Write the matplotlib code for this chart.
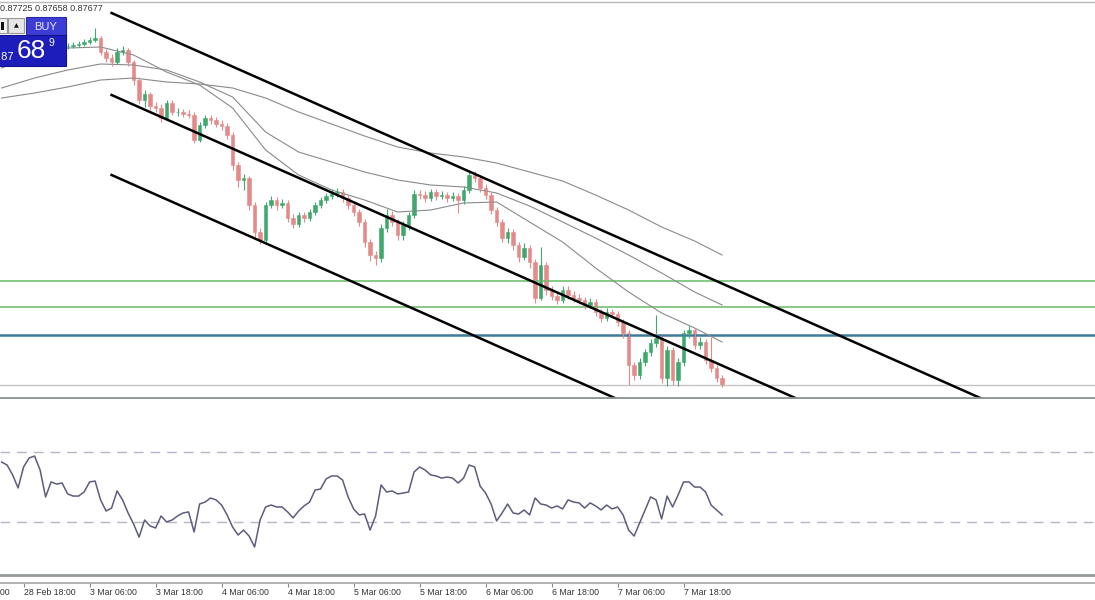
import numpy as np
import matplotlib.pyplot as plt
from matplotlib.patches import Rectangle
from matplotlib.lines import Line2D

W, H = 1095, 600

# hourly candles, prices in points (1e-5)
first_open = 88996
closes = [89000, 89008, 89012, 89016, 89012, 89020, 89016, 89024, 89020, 89016,
          89020, 89016, 89016, 89020, 89024, 89032, 89040, 89048, 88992, 88968,
          88952, 88992, 89000, 88952, 88880, 88800, 88824, 88776, 88768, 88728,
          88788, 88752, 88752, 88744, 88740, 88640, 88700, 88728, 88720, 88704,
          88696, 88660, 88540, 88480, 88488, 88380, 88272, 88240, 88380, 88400,
          88380, 88388, 88328, 88304, 88340, 88328, 88352, 88380, 88400, 88416,
          88428, 88432, 88408, 88380, 88352, 88312, 88232, 88180, 88168, 88288,
          88340, 88312, 88260, 88300, 88340, 88424, 88420, 88408, 88432, 88416,
          88420, 88408, 88416, 88400, 88440, 88500, 88488, 88448, 88420, 88360,
          88312, 88248, 88272, 88220, 88172, 88208, 88152, 88008, 88140, 88040,
          88016, 88000, 88040, 88020, 88008, 88000, 87980, 87992, 87952, 87928,
          87952, 87944, 87912, 87868, 87740, 87700, 87752, 87792, 87828, 87848,
          87688, 87800, 87680, 87752, 87868, 87880, 87820, 87832, 87760, 87728,
          87688, 87660]
highs = [89012, 89016, 89020, 89024, 89024, 89028, 89028, 89032, 89032, 89028,
         89028, 89028, 89028, 89032, 89036, 89044, 89052, 89088, 89056, 89004,
         88984, 89008, 89016, 89008, 88960, 88892, 88840, 88832, 88792, 88784,
         88800, 88800, 88768, 88764, 88760, 88752, 88712, 88740, 88740, 88732,
         88720, 88708, 88672, 88552, 88504, 88496, 88392, 88288, 88392, 88416,
         88412, 88404, 88400, 88344, 88352, 88352, 88364, 88392, 88412, 88428,
         88444, 88448, 88444, 88420, 88392, 88364, 88324, 88244, 88196, 88304,
         88364, 88356, 88324, 88316, 88352, 88440, 88440, 88436, 88444, 88444,
         88436, 88432, 88432, 88428, 88456, 88512, 88516, 88500, 88464, 88432,
         88372, 88324, 88288, 88284, 88232, 88228, 88220, 88164, 88212, 88152,
         88056, 88032, 88056, 88056, 88036, 88024, 88012, 88008, 88004, 87964,
         87968, 87964, 87956, 87924, 87880, 87752, 87768, 87804, 87844, 87940,
         87856, 87816, 87812, 87768, 87880, 87896, 87888, 87852, 87844, 87852,
         87740, 87700]
lows = [88988, 88992, 89000, 89004, 89004, 89004, 89008, 89008, 89012, 89008,
        89008, 89008, 89004, 89008, 89012, 89016, 89024, 89032, 88980, 88952,
        88936, 88944, 88980, 88936, 88860, 88784, 88772, 88760, 88752, 88712,
        88720, 88740, 88736, 88732, 88728, 88628, 88632, 88688, 88704, 88692,
        88680, 88644, 88520, 88452, 88440, 88360, 88252, 88224, 88232, 88368,
        88360, 88368, 88312, 88288, 88292, 88312, 88316, 88340, 88368, 88388,
        88404, 88412, 88392, 88364, 88336, 88296, 88212, 88156, 88140, 88152,
        88272, 88296, 88240, 88240, 88280, 88328, 88404, 88392, 88396, 88400,
        88404, 88392, 88396, 88348, 88384, 88428, 88472, 88432, 88404, 88344,
        88296, 88232, 88228, 88200, 88152, 88160, 88128, 87988, 88000, 88020,
        88000, 87984, 87988, 88004, 87992, 87984, 87964, 87968, 87936, 87912,
        87916, 87928, 87896, 87848, 87660, 87680, 87684, 87736, 87776, 87812,
        87668, 87656, 87660, 87656, 87736, 87848, 87804, 87804, 87744, 87712,
        87672, 87652]

# moving averages, sampled every 6 bars
ma_bars = list(range(0, 127, 6)) + [131]
ma_slow = [88808, 88828, 88852, 88880, 88888, 88872, 88864, 88848, 88808, 88752, 88704, 88656,
           88612, 88588, 88572, 88548, 88512, 88476, 88420, 88360, 88292, 88236, 88180]
ma_mid = [88848, 88888, 88920, 88944, 88940, 88920, 88872, 88812, 88672, 88592, 88552, 88512,
          88480, 88460, 88452, 88428, 88376, 88312, 88248, 88180, 88108, 88032, 87980]
ma_fast = [88928, 88980, 89008, 89012, 88980, 88912, 88860, 88768, 88600, 88500, 88440, 88400,
           88352, 88360, 88388, 88392, 88312, 88232, 88128, 88032, 87948, 87888, 87832]

# drawn channel
chan_bars = [20, 180]
chan_upper = [89148, 87588]
chan_mid = [88820, 87260]
chan_lower = [88500, 86940]

green_levels = [88076, 87972]
blue_level = 87860

rsi = [64.3, 62.6, 57.0, 49.6, 61.5, 66.6, 67.7, 59.8, 44.5, 53.0,
       51.8, 52.4, 46.2, 45.0, 45.0, 47.3, 53.0, 53.5, 42.8, 36.5,
       38.2, 47.9, 42.8, 35.4, 29.1, 21.7, 31.4, 28.0, 26.9, 33.7,
       30.3, 31.4, 33.7, 35.4, 36.0, 24.6, 40.5, 41.6, 43.9, 42.8,
       39.9, 34.3, 27.4, 22.9, 25.7, 22.3, 16.1, 31.4, 38.8, 39.9,
       38.8, 38.8, 36.0, 32.6, 36.5, 39.4, 41.6, 48.4, 49.0, 54.7,
       56.4, 56.4, 54.1, 44.5, 37.7, 34.3, 34.8, 25.7, 33.7, 51.3,
       47.3, 47.9, 46.2, 46.7, 47.3, 58.7, 61.5, 59.8, 57.0, 56.4,
       55.2, 55.8, 55.2, 52.4, 55.2, 62.6, 61.5, 50.7, 46.7, 40.5,
       30.9, 35.4, 40.5, 35.4, 34.8, 37.1, 34.3, 43.9, 40.5, 39.9,
       38.2, 39.4, 37.7, 42.8, 41.6, 41.1, 38.2, 41.1, 39.4, 37.1,
       39.9, 37.7, 38.8, 34.3, 25.7, 22.3, 29.7, 37.1, 44.5, 42.8,
       32.0, 45.0, 38.8, 45.6, 53.0, 53.0, 50.1, 50.1, 47.3, 39.9,
       37.1, 34.3]
rsi_levels = [70, 30]

tick_labels = ["28 Feb 06:00", "28 Feb 18:00", "3 Mar 06:00", "3 Mar 18:00",
               "4 Mar 06:00", "4 Mar 18:00", "5 Mar 06:00", "5 Mar 18:00",
               "6 Mar 06:00", "6 Mar 18:00", "7 Mar 06:00", "7 Mar 18:00"]
tick_bars = list(range(-8, 125, 12))

header = "0.87725 0.87658 0.87677"


def fy(y):
    return 1 - y / H


def box(x0, y0, x1, y1, **kw):
    fig.add_artist(Rectangle((x0 / W, fy(y1)), (x1 - x0) / W, (y1 - y0) / H, **kw))


closes = np.array(closes) / 1e5
highs = np.array(highs) / 1e5
lows = np.array(lows) / 1e5
opens = np.r_[first_open / 1e5, closes[:-1]]
x = np.arange(len(closes))
xlim = (-0.29, 198.8)

fig = plt.figure(figsize=(W / 100, H / 100), dpi=100)
fig.patch.set_facecolor('white')

# main price panel
ax = fig.add_axes([0, fy(398), 1, 396 / H])
ax.set_xlim(*xlim)
ax.set_ylim(0.87608, 0.89192)

for lv in green_levels:
    ax.axhline(lv / 1e5, color='#66bb66', lw=1.1)
ax.axhline(blue_level / 1e5, color='#3f7a96', lw=1.8)
ax.axhline(closes[-1], color='#c4c4c4', lw=1)

for ma in (ma_slow, ma_mid, ma_fast):
    ax.plot(ma_bars, np.array(ma) / 1e5, color='#8a8a8a', lw=0.8)

up = closes >= opens
cols = np.where(up, '#3fa86c', '#e58a8a')
ax.vlines(x, lows, highs, colors=cols, lw=0.8)
ax.bar(x, np.abs(closes - opens), bottom=np.minimum(opens, closes), width=0.6,
       color=cols, edgecolor=cols, linewidth=0.4)

for ch in (chan_upper, chan_mid, chan_lower):
    ax.plot(chan_bars, np.array(ch) / 1e5, color='black', lw=1.8)

ax.set_xticks([])
ax.set_yticks([])
for s in ('top', 'left', 'right'):
    ax.spines[s].set_visible(False)
ax.spines['bottom'].set_color('#8f9595')
ax.spines['bottom'].set_linewidth(2)

# RSI panel
ax2 = fig.add_axes([0, fy(575), 1, 176 / H])
ax2.set_xlim(*xlim)
ax2.set_ylim(0.2, 100.07)
for lv in rsi_levels:
    ax2.axhline(lv, color='#b6b6c8', lw=1, dashes=(7, 5))
ax2.plot(x, rsi, color='#5c5c7c', lw=1.1)
ax2.set_xticks([])
ax2.set_yticks([])
for s in ('top', 'left', 'right'):
    ax2.spines[s].set_visible(False)
ax2.spines['bottom'].set_color('#959a9a')
ax2.spines['bottom'].set_linewidth(2)

# time scale
ax3 = fig.add_axes([0, 0, 1, 17 / H])
ax3.set_xlim(*xlim)
ax3.set_ylim(0, 1)
ax3.set_xticks([])
ax3.set_yticks([])
for s in ('bottom', 'left', 'right'):
    ax3.spines[s].set_visible(False)
ax3.spines['top'].set_color('#a6a6a6')
ax3.spines['top'].set_linewidth(1.2)
ax3.vlines(tick_bars, 0.75, 1, color='#8a8a8a', lw=0.8)
for b, lab in zip(tick_bars, tick_labels):
    ax3.text(b + 0.1, 0.42, lab, ha='left', va='center', fontsize=6.3,
             family=['Liberation Sans Narrow', 'Liberation Sans'], color='#333333')

# top frame + header
fig.add_artist(Line2D([0, 1], [fy(2), fy(2)], color='#b8b8b8', lw=1))
fig.text(0, fy(8.5), header, ha='left', va='center', fontsize=6.5,
         family='Liberation Sans', color='#333333')

# one-click trading box
box(-1, 18, 7, 33, facecolor='#f2f2f2', edgecolor='#9a9a9a', lw=0.8)
box(1, 22, 4, 30, facecolor='#111111', lw=0)
box(8, 18, 24, 33, facecolor='#e6e6e6', edgecolor='#9a9a9a', lw=0.8)
fig.text(16 / W, fy(25.5), '\u25b2', ha='center', va='center', fontsize=4.5, color='#111111')
box(26, 17, 66, 35, facecolor='#3d3dd6', edgecolor='#2a2aa8', lw=0.8)
fig.text(46 / W, fy(26.5), 'BUY', ha='center', va='center', fontsize=8,
         family='Liberation Sans', color='#e8e8ff')
box(-1, 35, 66, 66, facecolor='#1d1dbb', edgecolor='#12128a', lw=0.8)
fig.text(14 / W, fy(56.5), '0.87', ha='right', va='center', fontsize=8,
         family='Liberation Sans', color='white')
fig.text(17 / W, fy(50.5), '68', ha='left', va='center', fontsize=19,
         family='Liberation Sans', color='white')
fig.text(51 / W, fy(43.5), '9', ha='center', va='center', fontsize=7.5,
         family='Liberation Sans', color='white')

fig.savefig('out.png', dpi=100)
